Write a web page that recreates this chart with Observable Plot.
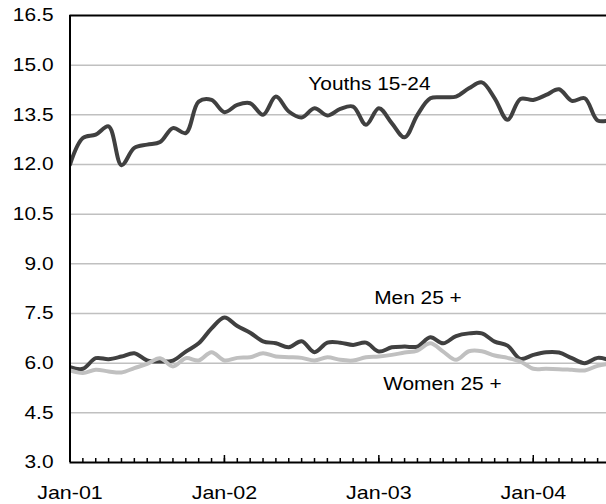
<!DOCTYPE html>
<html><head><meta charset="utf-8">
<script src="https://cdn.jsdelivr.net/npm/d3@7"></script>
<script src="https://cdn.jsdelivr.net/npm/@observablehq/plot@0.6"></script>
<style>body{margin:0;background:#fff;} #chart svg{display:block;}</style>
</head><body><div id="chart"></div>
<script>
// Monthly values, Jan-01 .. Jul-04 (month index 0 = Jan-01)
const youths = [12.0,12.8,12.9,13.15,11.98,12.5,12.6,12.68,13.1,12.95,13.9,13.95,13.58,13.8,13.85,13.5,14.05,13.6,13.42,13.7,13.48,13.68,13.75,13.2,13.7,13.25,12.82,13.5,14.0,14.03,14.05,14.3,14.48,14.0,13.35,13.98,13.95,14.1,14.27,13.92,14.0,13.33,13.35];
const men    = [5.88,5.83,6.15,6.12,6.2,6.3,6.08,6.05,6.08,6.35,6.6,7.05,7.38,7.12,6.92,6.66,6.6,6.48,6.66,6.33,6.62,6.62,6.55,6.62,6.35,6.48,6.5,6.5,6.78,6.6,6.82,6.9,6.9,6.65,6.53,6.13,6.25,6.33,6.32,6.15,6.0,6.16,6.08];
const women  = [5.78,5.7,5.8,5.75,5.72,5.85,5.98,6.15,5.9,6.15,6.08,6.33,6.08,6.16,6.18,6.3,6.2,6.18,6.16,6.08,6.18,6.1,6.08,6.18,6.2,6.25,6.32,6.38,6.6,6.35,6.1,6.36,6.36,6.23,6.16,6.05,5.83,5.83,5.82,5.8,5.78,5.92,5.98];
const yearLabels = ["Jan-01","Jan-02","Jan-03","Jan-04"];
const yTicks = [3.0,4.5,6.0,7.5,9.0,10.5,12.0,13.5,15.0,16.5];
const seriesNames = ["Youths 15-24","Men 25 +","Women 25 +"];

const rows = (vals) => vals.map((v, i) => ({m: i, v}));
const monthTicks = d3.range(1, 42);
const yearTicks = yearLabels.map((_, i) => i * 12);

const font = "'Liberation Sans', Arial, sans-serif";
const dark = "#404040", light = "#c0c0c0";

const chart = Plot.plot({
  width: 606, height: 504,
  marginLeft: 69.5, marginRight: 0, marginTop: 15, marginBottom: 42,
  style: {fontFamily: font, fontSize: "18px", color: "#000", background: "#fff"},
  x: {type: "linear", domain: [0, 41.69]},
  y: {domain: [3, 16.5]},
  marks: [
    Plot.ruleY(yTicks.filter(d => d > 3 && d < 16.5), {stroke: light, strokeWidth: 1.5}),
    Plot.line(rows(youths), {x: "m", y: "v", stroke: dark, strokeWidth: 4, curve: "catmull-rom", clip: true}),
    Plot.line(rows(men), {x: "m", y: "v", stroke: dark, strokeWidth: 4, curve: "catmull-rom", clip: true}),
    Plot.line(rows(women), {x: "m", y: "v", stroke: light, strokeWidth: 4, curve: "catmull-rom", clip: true}),
    Plot.ruleY([16.5], {stroke: "#000", strokeWidth: 2}),
    Plot.ruleY([3], {stroke: "#000", strokeWidth: 2}),
    Plot.ruleX([0], {stroke: "#000", strokeWidth: 2}),
    Plot.ruleX(monthTicks, {x: d => d, y1: 3, y2: 3, insetTop: -4, stroke: "#000", strokeWidth: 1.5}),
    Plot.ruleX(yearTicks, {x: d => d, y1: 3, y2: 3, insetTop: -7, stroke: "#000", strokeWidth: 1.5}),
    Plot.axisY({ticks: yTicks, tickSize: 0, tickPadding: 16.5, tickFormat: d => d.toFixed(1), label: null, fontSize: 18}),
    Plot.axisX({ticks: yearTicks, tickSize: 0, tickPadding: 23, tickFormat: d => yearLabels[d / 12], label: null, fontSize: 18.5}),
    Plot.text([seriesNames[0]], {x: 23.27, y: 14.43, text: d => d, fontSize: 18, fill: "#000"}),
    Plot.text([seriesNames[1]], {x: 27.04, y: 7.97, text: d => d, fontSize: 18, fill: "#000"}),
    Plot.text([seriesNames[2]], {x: 28.94, y: 5.37, text: d => d, fontSize: 18, fill: "#000"})
  ]
});

// Excel-style slightly wide lettering: stretch each label horizontally about its anchor
chart.querySelectorAll("text").forEach(t => {
  const x = +(t.getAttribute("x") || 0);
  const tr = t.getAttribute("transform") || "";
  t.setAttribute("transform", `${tr} translate(${x},0) scale(1.16,1) translate(${-x},0)`);
});
document.getElementById("chart").appendChild(chart);
</script>
</body></html>
